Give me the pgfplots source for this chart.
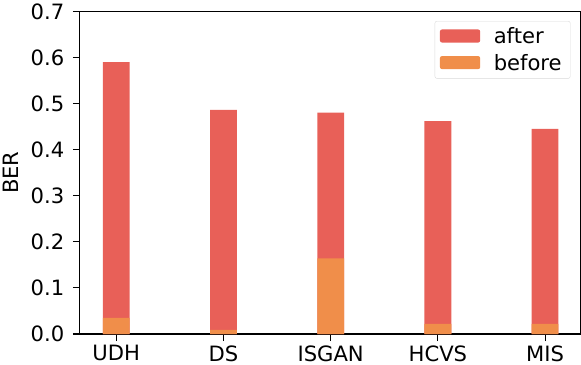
\documentclass[border=0pt]{standalone}
\usepackage{fontspec}
\setmainfont{DejaVu Sans}
\usepackage{pgfplots}
\pgfplotsset{compat=1.18}
\definecolor{aftc}{RGB}{232,96,88}
\definecolor{befc}{RGB}{240,142,74}

\begin{document}
\begin{tikzpicture}[font=\fontsize{21bp}{24bp}\selectfont]
\begin{axis}[
    scale only axis,
    width=498bp, height=321bp,
    xmin=-0.34, xmax=4.33,
    ymin=0, ymax=0.7,
    xtick={0,1,2,3,4},
    xticklabels={UDH, DS, ISGAN, HCVS, MIS},
    ytick={0,0.1,...,0.7},
    yticklabel style={/pgf/number format/fixed, /pgf/number format/fixed zerofill,
        /pgf/number format/precision=1, xshift=-5bp},
    /pgf/number format/assume math mode=true,
    tick label style={font=\fontsize{21bp}{24bp}\selectfont},
    xticklabel style={yshift=-1bp},
    label style={font=\fontsize{21bp}{24bp}\selectfont},
    ylabel={BER},
    ylabel style={yshift=5bp},
    tick align=outside,
    tick pos=left,
    major tick length=7bp,
    axis line style={line width=1.1bp},
    every tick/.style={black, line width=1.1bp},
    bar width=0.25,
    legend style={at={(0.98,0.97)}, anchor=north east, draw=black!15, rounded corners=2pt,
        font=\fontsize{21bp}{24bp}\selectfont,
        row sep=2bp, inner xsep=5bp, inner ysep=3bp},
    legend image code/.code={\fill[#1] (0bp,-6bp) rectangle (40bp,7bp);},
    legend style={nodes={inner sep=3.5bp}},
    legend cell align=left,
]
\addplot[ybar, fill=aftc, draw=none] coordinates {(0,0.590)(1,0.486)(2,0.480)(3,0.462)(4,0.445)};
\addplot[ybar, fill=befc, draw=none] coordinates {(0,0.035)(1,0.009)(2,0.164)(3,0.022)(4,0.022)};
\legend{\hspace*{10bp}after, \hspace*{10bp}before}
\end{axis}
\end{tikzpicture}
\end{document}
